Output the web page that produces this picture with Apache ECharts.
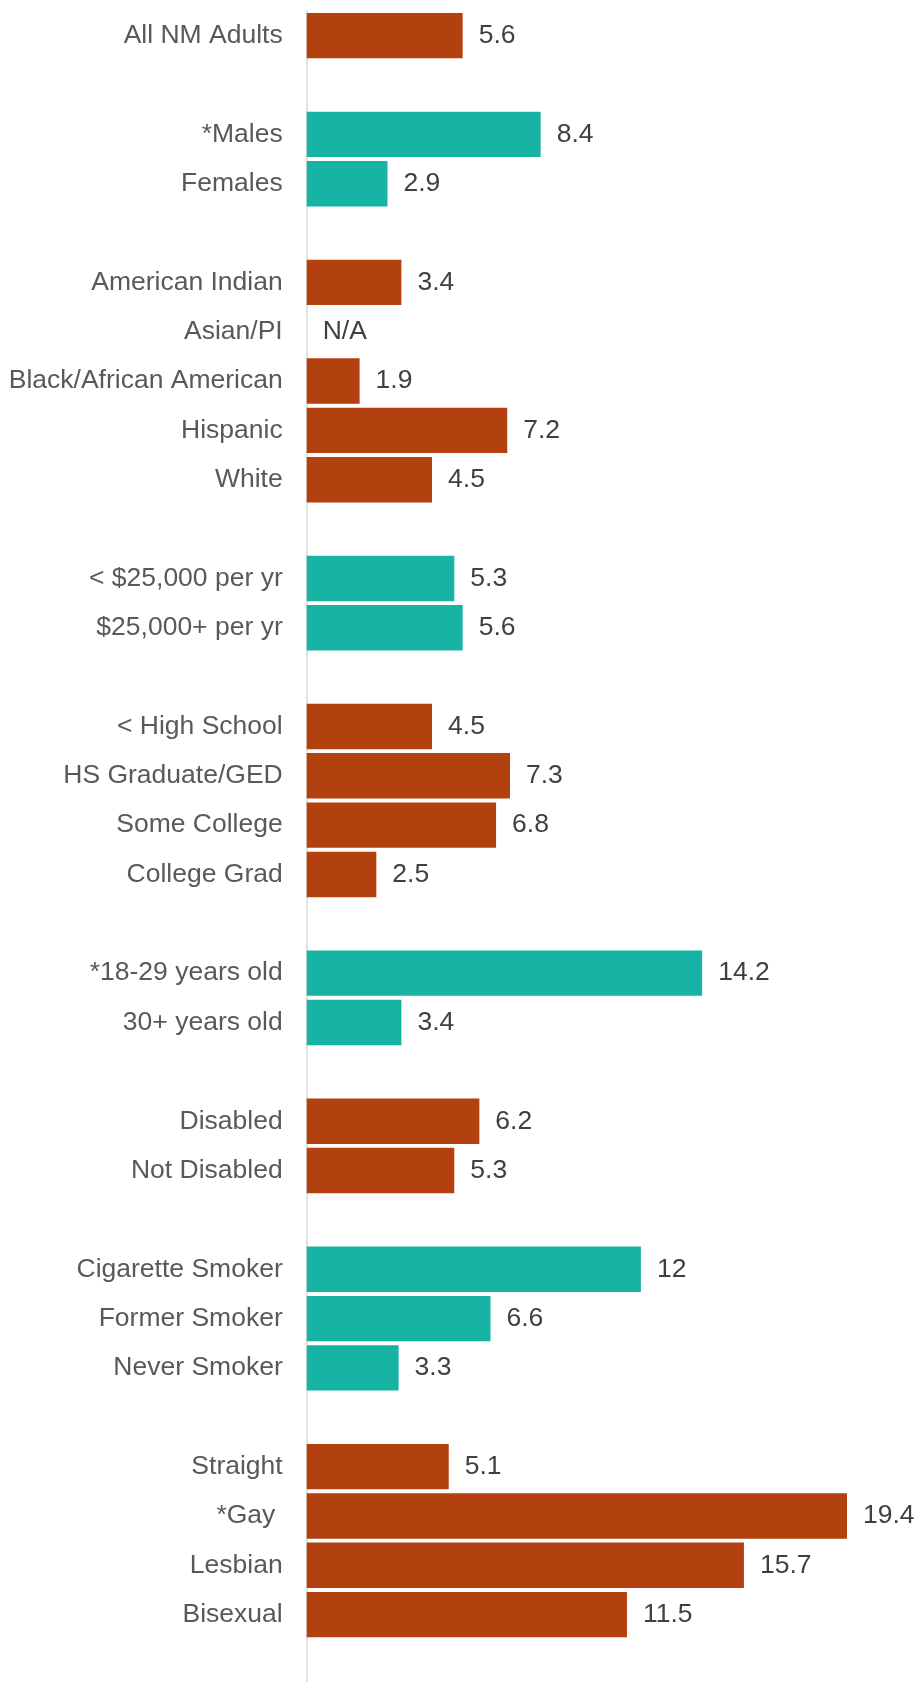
<!DOCTYPE html>
<html>
<head>
<meta charset="utf-8">
<script src="https://cdn.jsdelivr.net/npm/echarts@6/dist/echarts.min.js"></script>
<style>
html,body{margin:0;padding:0;background:#fff;}
#chart{width:916px;height:1682px;}
</style>
</head>
<body>
<div id="chart"></div>
<script>
// Categories ('' = spacer row between groups)
const categories = [
  'All NM Adults', '',
  '*Males', 'Females', '',
  'American Indian', 'Asian/PI', 'Black/African American', 'Hispanic', 'White', '',
  '< $25,000 per yr', '$25,000+ per yr', '',
  '< High School', 'HS Graduate/GED', 'Some College', 'College Grad', '',
  '*18-29 years old', '30+ years old', '',
  'Disabled', 'Not Disabled', '',
  'Cigarette Smoker', 'Former Smoker', 'Never Smoker', '',
  'Straight', '*Gay ', 'Lesbian', 'Bisexual'
];
// Values (null = spacer, 'N/A' = not available)
const values = [
  5.6, null,
  8.4, 2.9, null,
  3.4, 'N/A', 1.9, 7.2, 4.5, null,
  5.3, 5.6, null,
  4.5, 7.3, 6.8, 2.5, null,
  14.2, 3.4, null,
  6.2, 5.3, null,
  12, 6.6, 3.3, null,
  5.1, 19.4, 15.7, 11.5
];
// Group index per row (even = orange, odd = teal)
const groups = [
  0, 0,
  1, 1, 1,
  2, 2, 2, 2, 2, 2,
  3, 3, 3,
  4, 4, 4, 4, 4,
  5, 5, 5,
  6, 6, 6,
  7, 7, 7, 7,
  8, 8, 8, 8
];
const colors = ['#B3410F', '#17B3A5'];

const seriesData = values.map((v, i) => {
  if (v === null) return '-';
  if (v === 'N/A') return { value: 0, label: { formatter: 'N/A' } };
  return { value: v, itemStyle: { color: colors[groups[i] % 2] } };
});

const axisLineStyle = { color: '#D9D9D9', width: 1.5 };
const font = 'Liberation Sans, Arial, sans-serif';

const chart = echarts.init(document.getElementById('chart'));
chart.setOption({
  animation: false,
  grid: [
    { left: 306.7, top: 11, width: 557, height: 1628.3 },
    { left: 306.7, top: 1639.3, width: 557, bottom: 0 }
  ],
  xAxis: [
    { gridIndex: 0, type: 'value', min: 0, max: 20, show: false, splitLine: { show: false } },
    { gridIndex: 1, type: 'value', min: 0, max: 20, show: false, splitLine: { show: false } }
  ],
  yAxis: [
    {
      gridIndex: 0, type: 'category', inverse: true, data: categories,
      axisTick: { show: false },
      axisLine: { show: true, lineStyle: axisLineStyle },
      axisLabel: { margin: 24, fontSize: 26.5, color: '#595959', fontFamily: font, interval: 0, padding: [5, 0, 0, 0] }
    },
    {
      gridIndex: 1, type: 'value', min: 0, max: 1,
      axisTick: { show: false }, axisLabel: { show: false }, splitLine: { show: false },
      axisLine: { show: true, lineStyle: axisLineStyle }
    }
  ],
  series: [{
    type: 'bar',
    xAxisIndex: 0, yAxisIndex: 0,
    data: seriesData,
    barCategoryGap: '8%',
    label: {
      show: true, position: 'right', distance: 16,
      fontSize: 26.5, color: '#404040', fontFamily: font, padding: [5, 0, 0, 0]
    }
  }]
});
</script>
</body>
</html>
